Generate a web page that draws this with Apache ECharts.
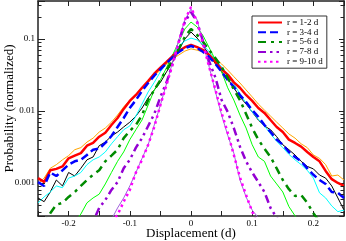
<!DOCTYPE html>
<html><head><meta charset="utf-8">
<script src="https://cdn.jsdelivr.net/npm/echarts@6/dist/echarts.min.js"></script>
<style>html,body{margin:0;padding:0;background:#fff}#c{width:346px;height:241px}</style>
</head><body><div id="c"></div><script>
// displacement grid (d)
const xs = [-0.25,-0.24,-0.23,-0.22,-0.21,-0.2,-0.19,-0.18,-0.17,-0.16,-0.15,-0.14,-0.13,-0.12,-0.11,-0.1,-0.09,-0.08,-0.07,-0.06,-0.05,-0.04,-0.03,-0.02,-0.01,0,0.01,0.02,0.03,0.04,0.05,0.06,0.07,0.08,0.09,0.1,0.11,0.12,0.13,0.14,0.15,0.16,0.17,0.18,0.19,0.2,0.21,0.22,0.23,0.24,0.25];

// probabilities (normalized)
const r12 = [0.00117,0.00103,0.0015,0.00157,0.0017,0.0022,0.0024,0.0026,0.0033,0.0036,0.0044,0.005,0.0064,0.008,0.0107,0.0138,0.0167,0.021,0.026,0.033,0.04,0.048,0.058,0.068,0.077,0.083,0.077,0.07,0.06,0.048,0.038,0.032,0.025,0.021,0.0167,0.0138,0.011,0.0094,0.0075,0.006,0.0051,0.004,0.0036,0.0032,0.0027,0.0023,0.002,0.00147,0.00113,0.001,0.00091];
const r23 = [0.00097,0.00117,0.0016,0.0018,0.0021,0.0024,0.0029,0.0031,0.0037,0.0042,0.0051,0.0058,0.007,0.0088,0.0114,0.0142,0.0172,0.021,0.025,0.031,0.037,0.045,0.053,0.06,0.068,0.073,0.07,0.066,0.06,0.054,0.045,0.037,0.03,0.0245,0.0196,0.0157,0.0125,0.0103,0.0085,0.007,0.0058,0.0048,0.0042,0.0035,0.0031,0.00245,0.0022,0.0018,0.00125,0.00129,0.0011];
const r34 = [0.00103,0.00091,0.0014,0.00125,0.0015,0.0018,0.002,0.0021,0.00245,0.0029,0.003,0.0036,0.0045,0.006,0.008,0.011,0.0142,0.019,0.0245,0.031,0.038,0.046,0.056,0.066,0.075,0.08,0.075,0.066,0.056,0.045,0.035,0.027,0.0216,0.0167,0.0133,0.0103,0.0083,0.0064,0.0051,0.004,0.0034,0.0027,0.0023,0.002,0.0016,0.0013,0.0011,0.00097,0.00075,0.00073,0.00062];
const r45 = [0.00062,0.00055,0.00075,0.0011,0.00091,0.0014,0.00125,0.0016,0.0021,0.0023,0.0033,0.0037,0.0045,0.0051,0.006,0.007,0.0085,0.011,0.0152,0.0196,0.025,0.035,0.048,0.07,0.1,0.125,0.103,0.08,0.06,0.045,0.035,0.028,0.021,0.0157,0.0125,0.0097,0.0075,0.0062,0.0055,0.0044,0.0034,0.0029,0.00245,0.002,0.0017,0.00157,0.00129,0.00117,0.00091,0.00062,0.00042];
const r4c = [0.00053,0.00064,0.00075,0.00091,0.00086,0.00117,0.00125,0.0014,0.0018,0.0021,0.0023,0.0027,0.0035,0.0044,0.0055,0.0062,0.0085,0.0125,0.0184,0.025,0.035,0.046,0.06,0.08,0.094,0.103,0.097,0.083,0.066,0.051,0.041,0.032,0.024,0.0172,0.0129,0.0097,0.0077,0.0062,0.0048,0.0038,0.0031,0.0025,0.0021,0.0018,0.0015,0.00117,0.00073,0.00062,0.00048,0.0004,0.00042];
const r56 = [0.00022,0.00026,0.00038,0.0005,0.00053,0.00064,0.00075,0.00091,0.0011,0.0013,0.0015,0.002,0.0024,0.0029,0.0042,0.0053,0.0064,0.0088,0.0142,0.0196,0.027,0.037,0.051,0.073,0.107,0.138,0.114,0.091,0.07,0.054,0.041,0.029,0.02,0.0142,0.0091,0.0058,0.004,0.003,0.0023,0.0016,0.0011,0.00082,0.00066,0.00068,0.00053,0.00038,0.00029,0.00024,0.00022,0.00021,0.00019];
const r67 = [null,null,null,null,null,null,0.00029,0.00037,0.00053,0.00062,0.0007,0.00097,0.0014,0.002,0.0027,0.004,0.0055,0.0075,0.0121,0.0196,0.027,0.04,0.06,0.091,0.138,0.172,0.147,0.11,0.075,0.051,0.035,0.021,0.0142,0.0088,0.0058,0.0034,0.0023,0.002,0.00125,0.00097,0.00075,0.00047,0.00035,0.00026,null,null,null,null,null,null,null];
const r78 = [null,null,null,null,null,null,null,0.00019,0.00024,0.00029,0.00045,0.00058,0.0008,0.00103,0.0016,0.0021,0.0031,0.0042,0.0062,0.0091,0.0157,0.025,0.045,0.091,0.172,0.237,0.172,0.091,0.048,0.029,0.0142,0.0097,0.0058,0.0032,0.002,0.0014,0.00103,0.00075,0.00045,0.00033,0.00026,null,null,null,null,null,null,null,null,null,null];
const r910 = [null,null,null,null,null,null,null,null,null,null,null,null,0.00029,0.00036,0.00055,0.0008,0.0014,0.0021,0.0034,0.006,0.0121,0.023,0.045,0.091,0.184,0.278,0.172,0.083,0.04,0.0196,0.0094,0.005,0.00245,0.0012,0.00068,0.0004,0.00026,null,null,null,null,null,null,null,null,null,null,null,null,null,null];
const r1011 = [null,null,null,null,null,null,null,null,null,null,null,0.00021,0.00031,0.00045,0.00062,0.00091,0.0014,0.0022,0.0034,0.0064,0.0121,0.024,0.048,0.097,0.184,0.26,0.184,0.085,0.04,0.0184,0.0088,0.0046,0.0026,0.0011,0.00064,0.00042,0.00033,0.00026,null,null,null,null,null,null,null,null,null,null,null,null,null];

const legendNames = ['r = 1-2 d','r = 3-4 d','r = 5-6 d','r = 7-8 d','r = 9-10 d'];
const yMajorLabels = [0.001, 0.01, 0.1];
const yMinorTicks = [0.0004,0.0005,0.0006,0.0007,0.0008,0.0009,0.002,0.003,0.004,0.005,0.006,0.007,0.008,0.009,0.02,0.03,0.04,0.05,0.06,0.07,0.08,0.09,0.2,0.3];
const xLabelTicks = [-0.2,-0.1,0,0.1,0.2];

const FONT = 'Liberation Serif';
function mk(name, arr, color, width, type, z) {
  return {
    name, type: 'line', data: xs.map((x, i) => [x, arr[i]]),
    symbol: 'none', showSymbol: false, z: z, silent: true,
    lineStyle: { color, width, type, cap: 'butt' }, itemStyle: { color },
    emphasis: { disabled: true }
  };
}
const series = [
  mk('r23', r23, '#ffa500', 1, 'solid', 2),
  mk('r45', r45, '#000000', 1, 'solid', 2),
  mk('r4c', r4c, '#00ffff', 1, 'solid', 2),
  mk('r67', r67, '#00ff00', 1, 'solid', 2),
  mk('r1011', r1011, '#a060dc', 1, 'solid', 2),
  mk(legendNames[0], r12, '#ff0000', 2.5, 'solid', 3),
  mk(legendNames[1], r34, '#0000ff', 2.5, [8, 4], 3),
  mk(legendNames[2], r56, '#008b00', 2.5, [8, 5, 3, 5], 3),
  mk(legendNames[3], r78, '#9400d3', 2.5, [8, 4, 2.5, 4, 2.5, 4], 3),
  mk(legendNames[4], r910, '#ff00ff', 2.5, [2.5, 3.5], 3),
  {
    type: 'custom', silent: true, z: 5, data: [[0, 0.01]],
    renderItem: function (params, api) {
      const cs = params.coordSys;
      const ch = [];
      yMinorTicks.forEach(v => {
        const y = Math.round(api.coord([0, v])[1]) + 0.5;
        ch.push({ type: 'line', shape: { x1: cs.x, y1: y, x2: cs.x + 3.5, y2: y }, style: { stroke: '#222', lineWidth: 1 } });
        ch.push({ type: 'line', shape: { x1: cs.x + cs.width - 3.5, y1: y, x2: cs.x + cs.width, y2: y }, style: { stroke: '#222', lineWidth: 1 } });
      });
      return { type: 'group', children: ch };
    }
  }
];

const axisLine = { show: true, onZero: false, lineStyle: { color: '#222', width: 1.5 } };
const yMin = 0.000348, yMax = 0.3373;
function isDecade(v) { const l = Math.log10(v); return Math.abs(l - Math.round(l)) < 1e-6; }
const chart = echarts.init(document.getElementById('c'), null, { renderer: 'canvas' });
chart.setOption({
  animation: false,
  backgroundColor: '#fff',
  grid: { left: 38, top: 1, width: 306, height: 215, containLabel: false, outerBoundsMode: 'none' },
  legend: {
    data: legendNames, orient: 'vertical', left: 252, top: 16,
    itemWidth: 24, itemHeight: 8, itemGap: 0.8, padding: [2, 4, 2, 5],
    borderColor: '#333', borderWidth: 1, backgroundColor: '#fff',
    itemStyle: { opacity: 0, borderWidth: 0 },
    textStyle: { fontFamily: FONT, fontSize: 9, color: '#000' },
    selectedMode: false
  },
  xAxis: [{
    type: 'value', min: -0.25, max: 0.25, interval: 0.05, position: 'bottom',
    name: 'Displacement (d)', nameLocation: 'middle', nameGap: 11, nameMoveOverlap: false,
    nameTextStyle: { fontFamily: FONT, fontSize: 13, color: '#000' },
    axisLine, splitLine: { show: false },
    axisTick: { inside: true, length: 5, lineStyle: { color: '#222' } },
    axisLabel: {
      fontFamily: FONT, fontSize: 9, color: '#000', margin: 3, interval: 0,
      showMinLabel: true, showMaxLabel: true,
      formatter: v => { const r = Math.round(v * 100) / 100; return xLabelTicks.some(t => Math.abs(t - r) < 1e-9) ? String(r) : ''; }
    }
  }, {
    type: 'value', min: -0.25, max: 0.25, interval: 0.05, position: 'top',
    axisLine, splitLine: { show: false },
    axisTick: { inside: true, length: 5, lineStyle: { color: '#222' } },
    axisLabel: { show: false }
  }],
  yAxis: [{
    type: 'log', min: yMin, max: yMax, position: 'left',
    name: 'Probability (normalized)', nameLocation: 'middle', nameGap: 22, nameRotate: 90, nameMoveOverlap: false,
    nameTextStyle: { fontFamily: FONT, fontSize: 13, color: '#000' },
    axisLine, splitLine: { show: false },
    axisTick: { inside: true, length: 7, lineStyle: { color: '#222' } },
    axisLabel: {
      fontFamily: FONT, fontSize: 9, color: '#000', margin: 3,
      formatter: v => { if (!isDecade(v)) return ''; const r = +v.toPrecision(1); return yMajorLabels.indexOf(r) >= 0 ? String(r) : ''; }
    }
  }, {
    type: 'log', min: yMin, max: yMax, position: 'right',
    axisLine, splitLine: { show: false },
    axisTick: { inside: true, length: 5, lineStyle: { color: '#222' } },
    axisLabel: { show: false }
  }],
  series
});
</script></body></html>
